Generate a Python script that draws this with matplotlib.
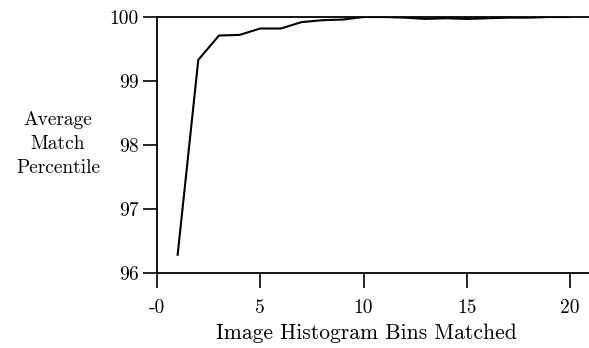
import matplotlib
matplotlib.use("Agg")
import matplotlib.pyplot as plt

bins = [1, 2, 3, 4, 5, 6, 7, 8, 9, 10, 11, 12, 13, 14, 15, 16, 17, 18, 19, 20]
percentile = [96.28, 99.33, 99.71, 99.72, 99.82, 99.82, 99.92, 99.95, 99.96, 100.0,
              100.0, 99.99, 99.97, 99.98, 99.97, 99.98, 99.99, 99.99, 100.0, 100.0]
xticks = [0, 5, 10, 15, 20]
xticklabels = ["-0", "5", "10", "15", "20"]
yticks = [96, 97, 98, 99, 100]

plt.rcParams['font.family'] = ['cmr10', 'DejaVu Serif']
plt.rcParams['axes.formatter.use_mathtext'] = True

fig = plt.figure(figsize=(5.89, 3.48), dpi=100)
ax = fig.add_axes([157/589, 1 - 272.7/348, 1 - 157/589, (272.7 - 17)/348])
ax.plot(bins, percentile, color='black', lw=1.5)
ax.set_xlim(0, 20.92)
ax.set_ylim(96, 100)
ax.set_xticks(xticks)
ax.set_xticklabels(xticklabels)
ax.set_yticks(yticks)
ax.set_yticklabels([str(v) for v in yticks])
ax.spines['right'].set_visible(False)
for s in ['left', 'bottom', 'top']:
    ax.spines[s].set_linewidth(1.3)
ax.tick_params(direction='out', length=11, width=1.2, labelsize=14, pad=8)
ax.tick_params(axis='y', length=10, pad=3)
ax.set_xlabel("Image Histogram Bins Matched", fontsize=15.5)
ax.xaxis.set_label_coords(0.484, -0.235)
ax.xaxis.label.set_va('center')
fig.text(58/589, 1 - 144/348, "Average\nMatch\nPercentile", ha='center', va='center',
         fontsize=14, linespacing=1.45)
fig.savefig("out.png", dpi=100)
